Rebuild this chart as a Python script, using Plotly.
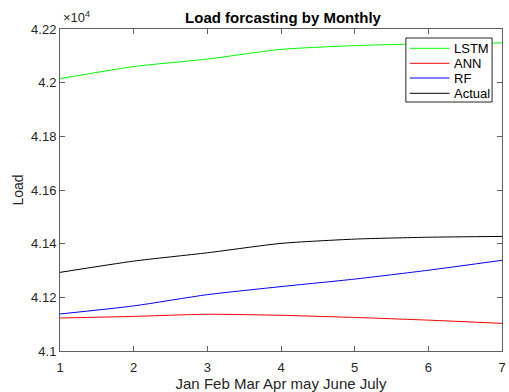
import plotly.graph_objects as go

months = [1, 2, 3, 4, 5, 6, 7]
lstm = [42015, 42060, 42088, 42124, 42138, 42145, 42148]
ann = [41123, 41129, 41137, 41133, 41125, 41115, 41103]
rf = [41138, 41168, 41210, 41240, 41268, 41301, 41338]
actual = [41293, 41335, 41366, 41401, 41417, 41424, 41427]

ytick_vals = [41000, 41200, 41400, 41600, 41800, 42000, 42200]
ytick_text = ["4.1", "4.12", "4.14", "4.16", "4.18", "4.2", "4.22"]

names = ["LSTM", "ANN", "RF", "Actual"]
colors = ["#00ff00", "#ff0000", "#0000ff", "#000000"]
series_vals = [lstm, ann, rf, actual]

W, H = 509, 392
L, R, T, B = 60, 3, 29, 41
pw, ph = W - L - R, H - T - B

def px(xp):
    return (xp - L) / pw

def py(yp):
    return 1 - (yp - T) / ph

FONT = "Liberation Sans, Arial"

fig = go.Figure()
for name, vals, col in zip(names, series_vals, colors):
    fig.add_trace(go.Scatter(x=months, y=vals, mode="lines", name=name, showlegend=False,
                             line=dict(color=col, width=1, shape="spline", smoothing=0.6)))

axis_common = dict(showgrid=False, zeroline=False, showline=True, linecolor="#606060",
                   linewidth=1, mirror="ticks", ticks="inside", ticklen=5,
                   tickcolor="#606060", ticklabeloverflow="allow",
                   tickfont=dict(family=FONT, size=13, color="#262626"))

fig.update_layout(
    width=W, height=H,
    margin=dict(l=L, r=R, t=T, b=B),
    paper_bgcolor="white", plot_bgcolor="white",
    title=dict(text="<b>Load forcasting by Monthly</b>", x=(L + W - R) / 2 / W, xanchor="center",
               y=1 - 18 / H, yanchor="middle",
               font=dict(family=FONT, size=15, color="#000000")),
    xaxis=dict(range=[1, 7], tickvals=months, ticklabelstandoff=4,
               title=dict(text="Jan Feb Mar Apr may June July", standoff=2,
                          font=dict(family=FONT, size=15, color="#262626")), **axis_common),
    yaxis=dict(range=[41000, 42200], tickvals=ytick_vals, ticktext=ytick_text,
               title=dict(text="Load", standoff=4,
                          font=dict(family=FONT, size=14, color="#262626")),
               **axis_common),
    showlegend=False,
)

fig.add_annotation(text="×10<sup>4</sup>", xref="paper", yref="paper", x=px(61), y=py(27),
                   xanchor="left", yanchor="bottom", showarrow=False,
                   font=dict(family=FONT, size=13, color="#262626"))

# manual legend box
fig.add_shape(type="rect", xref="paper", yref="paper", x0=px(409), x1=px(496), y0=py(102), y1=py(38),
              line=dict(color="#262626", width=1), fillcolor="white", layer="above")
rows = [48.3, 63.3, 78, 93.3]
for name, col, ry in zip(names, colors, rows):
    fig.add_shape(type="line", xref="paper", yref="paper", x0=px(413), x1=px(453), y0=py(ry), y1=py(ry),
                  line=dict(color=col, width=1), layer="above")
    fig.add_annotation(text=name, xref="paper", yref="paper", x=px(456), y=py(ry),
                       xanchor="left", yanchor="middle", showarrow=False,
                       font=dict(family=FONT, size=13, color="#000000"))

fig.write_html("out.html")
